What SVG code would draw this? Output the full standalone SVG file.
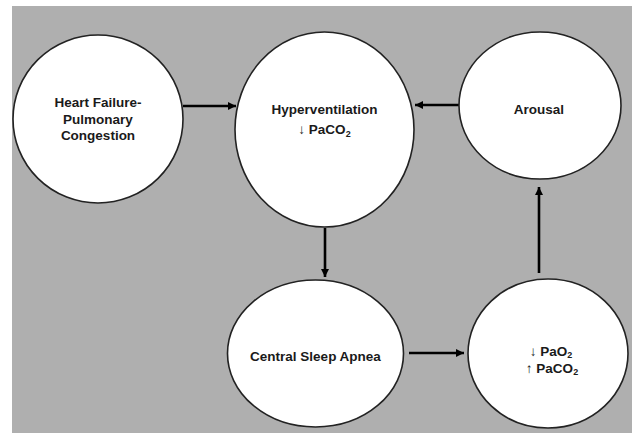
<svg xmlns="http://www.w3.org/2000/svg" width="632" height="433" viewBox="0 0 632 433">
<style>
.node ellipse{fill:#fff;stroke:#222;stroke-width:1.6}
.node text{font-family:"Liberation Sans",Arial,sans-serif;font-weight:bold;font-size:13.5px;fill:#1a1a1a;text-anchor:middle}
.ar{font-weight:normal}
.sub{font-size:9px}
.conn line{stroke:#000;stroke-width:2.6}
</style>
<defs>
<marker id="ah" viewBox="0 0 10 10" refX="10" refY="5" markerWidth="3.2" markerHeight="3.2" orient="auto" markerUnits="strokeWidth">
<path d="M0,0 L10,5 L0,10 z" fill="#000"/>
</marker>
</defs>
<rect x="0" y="0" width="632" height="433" fill="#fff"/>
<rect x="12" y="6" width="620" height="427" fill="#afafaf"/>
<g class="conn">
<line x1="183" y1="106" x2="236" y2="106" marker-end="url(#ah)"/>
<line x1="459" y1="105" x2="415" y2="105" marker-end="url(#ah)"/>
<line x1="325" y1="228" x2="325" y2="277" marker-end="url(#ah)"/>
<line x1="409" y1="353" x2="464" y2="353" marker-end="url(#ah)"/>
<line x1="539" y1="273" x2="539" y2="187" marker-end="url(#ah)"/>
</g>
<g id="heart" class="node">
<ellipse cx="98" cy="119" rx="85" ry="84"/>
<text x="98" y="107">Heart Failure-</text>
<text x="98" y="123.5">Pulmonary</text>
<text x="98" y="140">Congestion</text>
</g>
<g id="hyper" class="node">
<ellipse cx="324.5" cy="129.5" rx="89.5" ry="97.5"/>
<text x="324.5" y="114">Hyperventilation</text>
<text x="324.5" y="134"><tspan class="ar">↓</tspan> PaCO<tspan class="sub" dy="2.5">2</tspan></text>
</g>
<g id="arousal" class="node">
<ellipse cx="540" cy="105.5" rx="81" ry="73.5"/>
<text x="539" y="114">Arousal</text>
</g>
<g id="csa" class="node">
<ellipse cx="315.5" cy="353.5" rx="88" ry="73.5"/>
<text x="315.5" y="361">Central Sleep Apnea</text>
</g>
<g id="gas" class="node">
<ellipse cx="548" cy="353.5" rx="80" ry="74.5"/>
<text x="551" y="355.5"><tspan class="ar">↓</tspan> PaO<tspan class="sub" dy="2.5">2</tspan></text>
<text x="552" y="372.5"><tspan class="ar">↑</tspan> PaCO<tspan class="sub" dy="2.5">2</tspan></text>
</g>
</svg>
